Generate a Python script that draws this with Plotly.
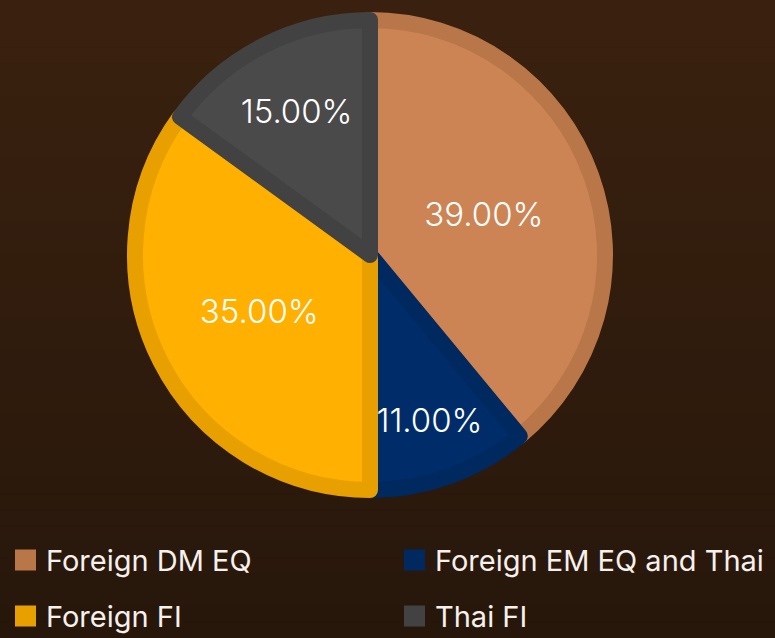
import plotly.graph_objects as go

labels = ["Foreign DM EQ", "Foreign EM EQ and Thai", "Foreign FI", "Thai FI"]
values = [39, 11, 35, 15]
fill_colors = ["#cd8455", "#002d6a", "#ffb000", "#4a4a4a"]
edge_colors = ["#b97649", "#00295f", "#e8a000", "#424242"]

W, H = 775, 638
cx, cy, r = 370, 255, 243
lw = 16
R = r - lw / 2

fig = go.Figure()
fig.add_trace(go.Pie(
    labels=labels, values=values, sort=False, direction="clockwise", rotation=0,
    marker=dict(colors=fill_colors, line=dict(color=edge_colors, width=lw)),
    texttemplate="%{percent:.2%}", textposition="inside", insidetextorientation="horizontal",
    textfont=dict(family="Inter", size=33, color="white", weight=300),
    domain=dict(x=[(cx - R) / W, (cx + R) / W], y=[(H - cy - R) / H, (H - cy + R) / H]),
    hoverinfo="skip", showlegend=False,
))

# background gradient
n = 40
top = (58, 33, 15)
bot = (39, 23, 11)
for i in range(n):
    t = i / (n - 1)
    c = tuple(round(top[k] + (bot[k] - top[k]) * t) for k in range(3))
    fig.add_shape(type="rect", xref="paper", yref="paper", x0=0, x1=1,
                  y0=1 - (i + 1) / n, y1=1 - i / n + 0.001, fillcolor="rgb(%d,%d,%d)" % c,
                  line=dict(width=0), layer="below")

# legend (2 columns x 2 rows)
col_x = [15, 404]
row_y = [560, 616]
sq = 21
for i, (lab, col) in enumerate(zip(labels, edge_colors)):
    x0 = col_x[i % 2]
    yc = row_y[i // 2]
    fig.add_shape(type="rect", xref="paper", yref="paper",
                  x0=x0 / W, x1=(x0 + sq) / W,
                  y0=(H - yc - sq / 2) / H, y1=(H - yc + sq / 2) / H,
                  fillcolor=col, line=dict(width=0), layer="above")
    fig.add_annotation(xref="paper", yref="paper", x=(x0 + sq + 8) / W, y=(H - yc) / H,
                       xanchor="left", yanchor="middle", showarrow=False, text=lab,
                       font=dict(family="Inter", size=29, color="#f6f1ec"))

fig.update_layout(
    width=W, height=H, margin=dict(l=0, r=0, t=0, b=0),
    paper_bgcolor="#301c0d", plot_bgcolor="rgba(0,0,0,0)",
    showlegend=False,
)
fig.write_html("out.html")
